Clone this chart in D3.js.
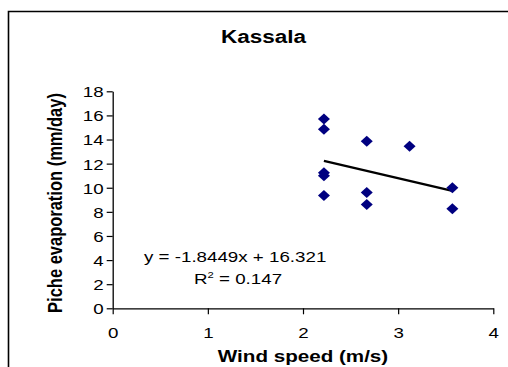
<!DOCTYPE html>
<html><head><meta charset="utf-8">
<script src="https://cdn.jsdelivr.net/npm/d3@7/dist/d3.min.js"></script>
<style>html,body{margin:0;padding:0;background:#fff;overflow:hidden}</style>
</head><body>
<script>
const windSpeed = [2.22, 2.22, 2.67, 3.12, 2.22, 2.22, 2.22, 2.67, 2.67, 3.57, 3.57];
const evaporation = [15.7, 14.85, 13.85, 13.45, 11.25, 11.0, 9.35, 9.6, 8.6, 10.0, 8.25];
const xTicks = [0, 1, 2, 3, 4];
const yTicks = [0, 2, 4, 6, 8, 10, 12, 14, 16, 18];
const trendSlope = [-1.8449];
const trendIntercept = [16.321];
const eqLabel = "y = -1.8449x + 16.321";
const r2Label = "0.147";

const W = 508, H = 367;
const S = 1.25; // horizontal stretch of the original picture's text
const svg = d3.select("body").append("svg").attr("width", W).attr("height", H);
svg.append("rect").attr("width", W).attr("height", H).attr("fill", "#fff");
svg.append("path").attr("d", `M8.5,${H+2}V11.5H${W+2}`).attr("fill","none").attr("stroke","#000").attr("stroke-width",1.6);

const x = d3.scaleLinear().domain([0, 4]).range([112.7, 493.3]);
const y = d3.scaleLinear().domain([0, 18]).range([308.3, 91.3]);
const font = "Arial, 'Liberation Sans', sans-serif";

const xa = svg.append("g").attr("transform", `translate(0,${y(0)})`)
  .call(d3.axisBottom(x).tickValues(xTicks).tickFormat(d3.format("d")).tickSize(6).tickSizeOuter(0));
const ya = svg.append("g").attr("transform", `translate(${x(0)},0)`)
  .call(d3.axisLeft(y).tickValues(yTicks).tickFormat(d3.format("d")).tickSize(6).tickSizeOuter(0));
[xa, ya].forEach(g => {
  g.select(".domain").attr("stroke", "#000").attr("stroke-width", 1.3);
  g.selectAll(".tick line").attr("stroke", "#000").attr("stroke-width", 1.2);
  g.selectAll(".tick text").attr("fill", "#000").style("font-family", font).style("font-size", "15px");
});
xa.selectAll(".tick text").attr("x", 0).attr("y", 0).attr("dy", "0")
  .attr("transform", `translate(0,30) scale(${S},1)`);
ya.selectAll(".tick text").attr("x", 0).attr("dy", "0.36em")
  .attr("transform", `translate(-9,0) scale(${S},1)`);

// trend line
const xr = d3.extent(windSpeed);
svg.append("line")
  .attr("x1", x(xr[0])).attr("y1", y(trendSlope[0]*xr[0] + trendIntercept[0]))
  .attr("x2", x(xr[1])).attr("y2", y(trendSlope[0]*xr[1] + trendIntercept[0]))
  .attr("stroke", "#000").attr("stroke-width", 2.4);

// points
const pts = windSpeed.map((v, i) => [v, evaporation[i]]);
svg.append("g").selectAll("path").data(pts).enter().append("path")
  .attr("transform", d => `translate(${x(d[0])},${y(d[1])})`)
  .attr("d", "M0,-5.5L6,0L0,5.5L-6,0Z")
  .attr("fill", "#000080");

function stretched(px, py, anchor, size, weight, str) {
  return svg.append("text").attr("transform", `translate(${px},${py}) scale(${S},1)`)
    .attr("text-anchor", anchor).style("font-family", font)
    .style("font-weight", weight).style("font-size", size + "px").text(str);
}
stretched(263.5, 43, "middle", 18, "bold", "Kassala");
stretched(303, 361.5, "middle", 16.5, "bold", "Wind speed (m/s)");
svg.append("text").attr("transform", `translate(54.5,203) scale(${S},1) rotate(-90)`)
  .attr("text-anchor", "middle").attr("dy", "0.35em")
  .style("font-family", font).style("font-weight", "bold").style("font-size", "16.5px")
  .text("Piche evaporation (mm/day)");

stretched(144, 262, "start", 15, "normal", eqLabel);
const r2 = stretched(194, 283.5, "start", 15, "normal", null);
r2.append("tspan").text("R");
r2.append("tspan").attr("dy", -6).style("font-size", "9px").text("2");
r2.append("tspan").attr("dy", 6).text(" = " + r2Label);
</script>
</body></html>
